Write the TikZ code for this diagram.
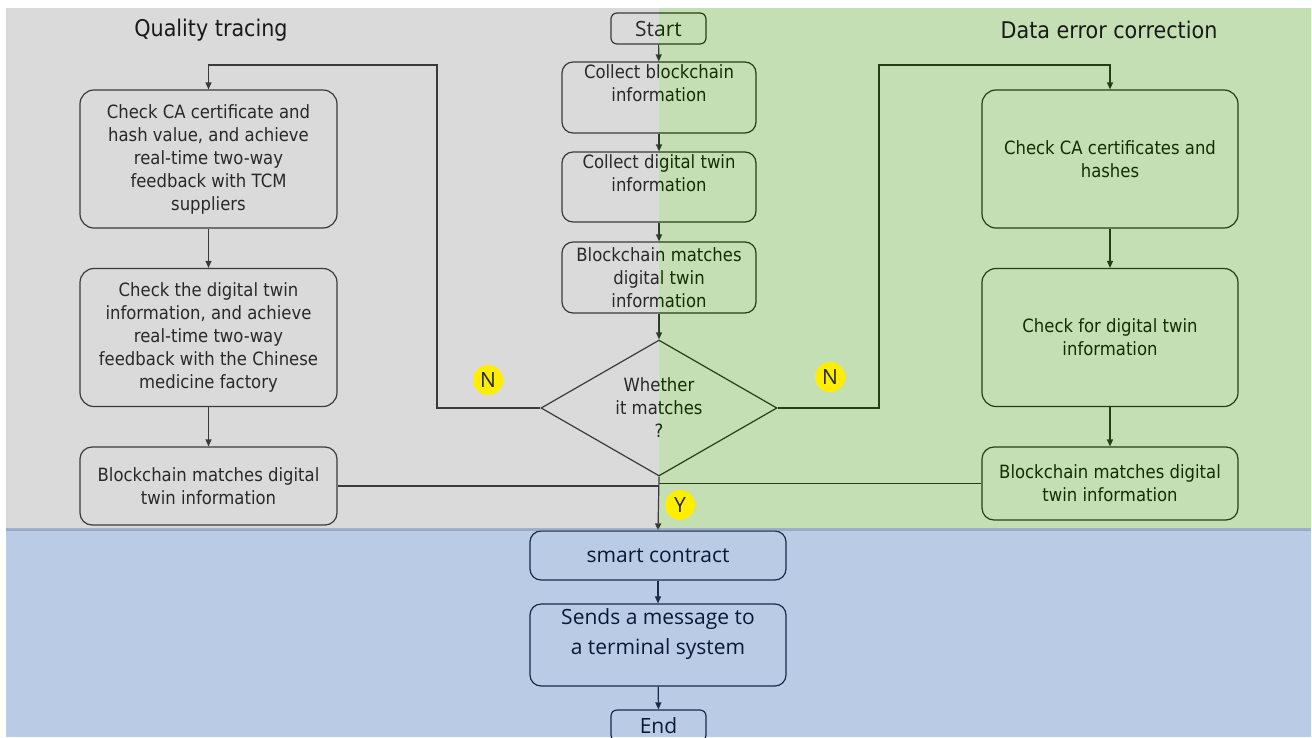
\documentclass[tikz,border=0pt]{standalone}
\usepackage{fontspec}
\setmainfont{DejaVu Sans}[FakeStretch=0.9]
\newfontfamily\yafont{Open Sans}
\usetikzlibrary{shapes.geometric,arrows.meta,calc}

\definecolor{linec}{RGB}{25,25,25}
\definecolor{textc}{RGB}{0,0,0}
\definecolor{grayc}{RGB}{135,135,135}
\definecolor{greenc}{RGB}{62,152,5}
\definecolor{bluec}{RGB}{28,85,175}
\definecolor{stripc}{RGB}{120,140,180}
\definecolor{markc}{RGB}{255,238,0}

\tikzset{
  procbox/.style={draw=linec, line width=1.2pt, rounded corners=14pt, align=center,
    text=textc, inner sep=0pt, font=\fontsize{18.3}{23}\selectfont},
  midbox/.style={procbox, rounded corners=11pt, minimum width=194pt},
  lowbox/.style={procbox, rounded corners=11pt, minimum width=256pt,
    font=\yafont\fontsize{21}{30}\selectfont},
  termbox/.style={procbox, rounded corners=6pt, minimum width=95pt, minimum height=31pt,
    font=\yafont\fontsize{21}{21}\selectfont},
  decision/.style={diamond, draw=linec, line width=1.2pt, align=center, text=textc,
    inner sep=0pt, aspect=1.74, minimum width=236pt, minimum height=136pt,
    font=\fontsize{18.3}{23}\selectfont},
  arr/.style={draw=linec, line width=1.2pt, -{Triangle[length=7pt,width=6pt]}},
  plain/.style={draw=linec, line width=1.2pt},
  yesno/.style={circle, fill=markc, minimum size=30pt, inner sep=0pt, text=black!85,
    font=\yafont\fontsize{21}{21}\selectfont},
  title/.style={text=black!90, font=\fontsize{23}{23}\selectfont}
}

\begin{document}
\begin{tikzpicture}[x=1pt,y=-1pt]
\useasboundingbox (0,0) rectangle (1312,737);
\clip (0,0) rectangle (1312,737);
\fill[white] (0,0) rectangle (1312,737);

% ---- main column ----
\node[termbox] (start) at (658.5,28.5) {Start};
\node[midbox, minimum height=71pt] (c1) at (659,97.5)
  {\parbox[c][65pt][t]{190pt}{\centering Collect blockchain\\information}};
\node[midbox, minimum height=70pt] (c2) at (659,187)
  {\parbox[c][64pt][t]{190pt}{\centering Collect digital twin\\information}};
\node[midbox, minimum height=71pt] (c3) at (659,277.5)
  {Blockchain matches\\digital twin\\information};
\node[decision] (dia) at (659,408) {Whether\\it matches\\?};
\node[lowbox, minimum height=49pt] (sc) at (658,555.5) {smart contract};
\node[lowbox, minimum height=82pt] (send) at (658,645)
  {\parbox[c][72pt][t]{250pt}{\centering Sends a message to\\a terminal system}};
\node[termbox] (end) at (658.5,725.5) {End};

% ---- quality tracing column ----
\node[procbox, minimum width=257pt, minimum height=138pt] (l1) at (208.5,159)
  {Check CA certificate and\\hash value, and achieve\\real-time two-way\\feedback with TCM\\suppliers};
\node[procbox, minimum width=257pt, minimum height=138pt] (l2) at (208.5,337.5)
  {Check the digital twin\\information, and achieve\\real-time two-way\\feedback with the Chinese\\medicine factory};
\node[procbox, rounded corners=12pt, minimum width=257pt, minimum height=78pt] (l3) at (208.5,486)
  {Blockchain matches digital\\twin information};

% ---- data error correction column ----
\node[procbox, minimum width=256pt, minimum height=138pt] (r1) at (1110,159)
  {Check CA certificates and\\hashes};
\node[procbox, minimum width=256pt, minimum height=138pt] (r2) at (1110,337.5)
  {Check for digital twin\\information};
\node[procbox, rounded corners=12pt, minimum width=256pt, minimum height=73pt] (r3) at (1110,483.5)
  {Blockchain matches digital\\twin information};

\coordinate (loopL) at (437,65);
\coordinate (loopR) at (879,65);

% ---- connectors ----
\draw[arr] (start) -- (c1);
\draw[arr] (c1) -- (c2);
\draw[arr] (c2) -- (c3);
\draw[arr] (c3) -- (dia.north);
\draw[arr] (dia.south) -- (sc.north);
\draw[arr] (sc) -- (send);
\draw[arr] (send) -- (end);

\draw[arr] (l1) -- (l2);
\draw[arr] (l2) -- (l3);
\draw[arr] (r1) -- (r2);
\draw[arr] (r2) -- (r3);

\draw[arr] (dia.west) -| (loopL) -| (l1.north);
\draw[arr] (dia.east) -| (loopR) -| (r1.north);

\draw[plain] (l3.east) -- (l3.east -| dia.south);
\draw[plain] (r3.west) -- (r3.west -| dia.south);

% ---- tinted lanes laid over the flow ----
\fill[grayc, fill opacity=0.3] (6,8) rectangle (659,529);
\fill[greenc, fill opacity=0.3] (659,8) rectangle (1311,529);
\fill[bluec, fill opacity=0.3] (6,529) rectangle (1311,737);
\draw[stripc, line width=3pt, opacity=0.5] (6,529.5) -- (1311,529.5);

% ---- lane titles and branch marks ----
\node[title] (tq) at (211,30) {Quality tracing};
\node[title] (td) at (1109,30) {Data error correction};

\node[yesno] (nl) at (488,380) {N};
\node[yesno] (nr) at (830,377) {N};
\node[yesno] (yy) at (680,505) {Y};
\end{tikzpicture}
\end{document}
